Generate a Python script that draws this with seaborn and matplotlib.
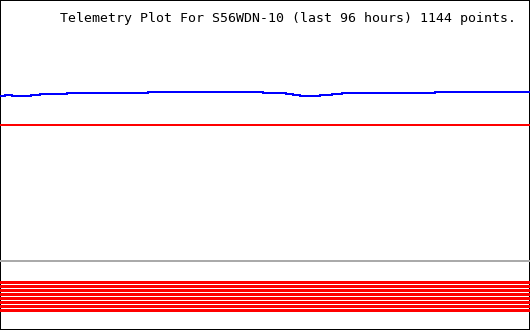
import matplotlib
matplotlib.use("Agg")
import matplotlib.pyplot as plt
import seaborn as sns
import pandas as pd

# ---- data ----
title = "Telemetry Plot For S56WDN-10 (last 96 hours) 1144 points."

# analog channel 1 (blue), step changes: time in hours since start of window
blue_hours = [0.0, 0.91, 2.17, 5.62, 7.25, 12.14, 26.81, 47.64, 51.80, 53.07,
              54.34, 57.96, 60.14, 61.95, 78.79, 96.0]
blue_values = [234, 235, 234, 235, 236, 237, 238, 237, 236, 235,
               234, 235, 236, 237, 238, 238]

# analog channel 2 (red), constant
red_hours = [0.0, 96.0]
red_values = [205, 205]

# separator between analog and digital channels
separator_value = 69

# digital bit channels (8 bits, all on)
bit_values = [48.5, 44.5, 40.5, 36.5, 32.5, 28.5, 24.5, 20.5]

W, H = 530, 330
sns.set_theme(style="white")
plt.rcParams["font.family"] = ["DejaVu Sans Mono", "DejaVu Sans"]

fig = plt.figure(figsize=(W / 100, H / 100), dpi=100)
fig.patch.set_facecolor("white")
fig.patch.set_edgecolor("black")
fig.patch.set_linewidth(1.44)
ax = fig.add_axes([0, 0, 1, 1])
ax.patch.set_visible(False)

df_blue = pd.DataFrame({"hours": blue_hours, "value": blue_values})
df_red = pd.DataFrame({"hours": red_hours, "value": red_values})

sns.lineplot(data=df_blue, x="hours", y="value", ax=ax, color="#0000ff",
             linewidth=1.44, drawstyle="steps-post", antialiased=False)
sns.lineplot(data=df_red, x="hours", y="value", ax=ax, color="#ff0000",
             linewidth=1.44, antialiased=False)

ax.axhline(separator_value, color="#aaaaaa", linewidth=1.44, antialiased=False)
for b in bit_values:
    ax.axhline(b, color="#ff0000", linewidth=2.16, antialiased=False)

ax.set_xlim(0, 96)
ax.set_ylim(0, 330)
ax.set_xticks([])
ax.set_yticks([])
ax.set_xlabel("")
ax.set_ylabel("")
for s in ax.spines.values():
    s.set_visible(False)

fig.text(59.5 / W, 1 - 21.7 / H, title, fontsize=9.5, color="black",
         ha="left", va="baseline")

fig.savefig("out.png", dpi=100, facecolor="white", edgecolor="black")
